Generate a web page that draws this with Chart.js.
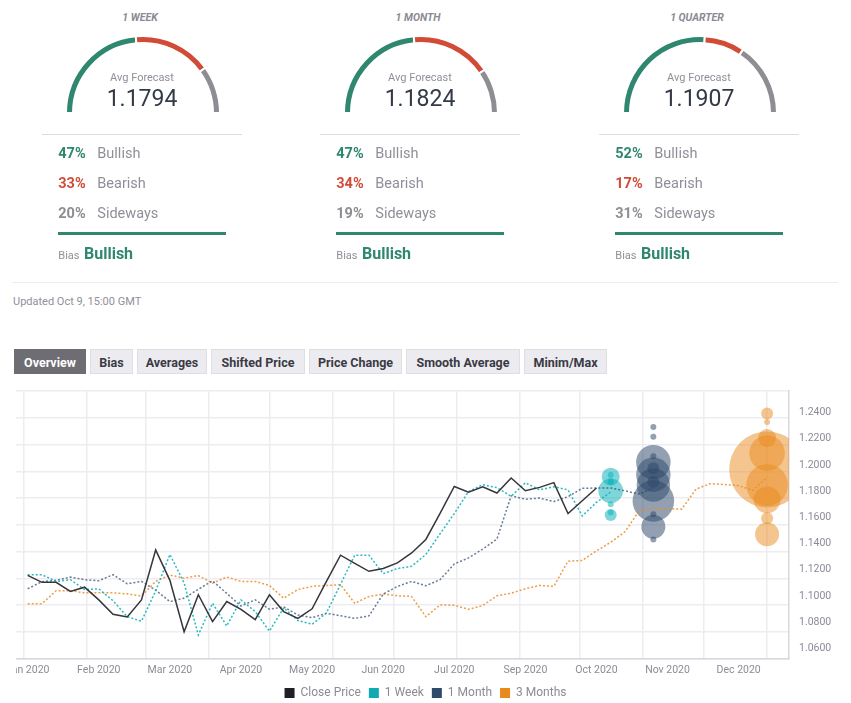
<!DOCTYPE html>
<html>
<head>
<meta charset="utf-8">
<script src="https://cdn.jsdelivr.net/npm/chart.js@4.4.1/dist/chart.umd.min.js"></script>
<style>
html,body{margin:0;padding:0;background:#fff;}
body{width:851px;height:703px;position:relative;overflow:hidden;font-family:Roboto,"Open Sans",Arial,sans-serif;}
.abs{position:absolute;white-space:nowrap;}
.ttl{font-size:10.5px;font-style:italic;font-weight:700;color:#8a8a94;width:200px;text-align:center;line-height:14px;}
.avg{font-size:11px;color:#8f8f99;width:200px;text-align:center;line-height:14px;}
.val{font-size:23px;color:#333a46;width:200px;text-align:center;line-height:28px;}
.hr{height:1px;background:#dcdcdf;}
.pct{font-size:14.5px;font-weight:700;line-height:18px;}
.lab{font-size:14.5px;color:#8f8f99;line-height:18px;}
.bar{height:3px;background:#2f876f;}
.bias{font-size:11px;color:#8f8f99;line-height:14px;}
.biasv{font-size:16px;font-weight:700;color:#2f876f;line-height:20px;}
.upd{font-size:11px;color:#8f8f99;line-height:14px;}
.tabs{display:flex;gap:4px;}
.tab{height:25px;line-height:25px;box-sizing:border-box;border:1px solid #dedee3;background:#ececf0;color:#3a3a44;font-size:12.5px;font-weight:700;text-align:center;}
.tab.on{background:#6d6d73;border-color:#6d6d73;color:#fff;}
</style>
</head>
<body>
<div id="widgets"></div>
<div class="abs hr" style="left:12px;top:282px;width:826px;background:#ececef;"></div>
<div class="abs upd" style="left:13px;top:295px;">Updated Oct 9, 15:00 GMT</div>
<div class="abs tabs" id="tabs" style="left:14px;top:349px;"></div>
<canvas id="main" class="abs" style="left:16px;top:380px;" width="819" height="329"></canvas>
<script>
// ---------- Sentiment poll data ----------
const periods = ['1 WEEK', '1 MONTH', '1 QUARTER'];
const avgForecast = ['1.1794', '1.1824', '1.1907'];
const bullishPct = [47, 47, 52];
const bearishPct = [33, 34, 17];
const sidewaysPct = [20, 19, 31];
const biasText = ['Bullish', 'Bullish', 'Bullish'];
const tabLabels = ['Overview', 'Bias', 'Averages', 'Shifted Price', 'Price Change', 'Smooth Average', 'Minim/Max'];

// ---------- Chart data (weekly, week 0 = 3 Jan 2020) ----------
const startDate = Date.UTC(2020, 0, 3);
const xTickLabels = ['Jan 2020', 'Feb 2020', 'Mar 2020', 'Apr 2020', 'May 2020', 'Jun 2020', 'Jul 2020', 'Sep 2020', 'Oct 2020', 'Nov 2020', 'Dec 2020'];
const yTickValues = [1.06, 1.08, 1.10, 1.12, 1.14, 1.16, 1.18, 1.20, 1.22, 1.24];

const closePrice = [1.1158, 1.1105, 1.1105, 1.1035, 1.1068, 1.0971, 1.0861, 1.0841, 1.0971, 1.1352,
  1.1120, 1.0728, 1.1010, 1.0805, 1.0958, 1.0899, 1.0820, 1.1010, 1.0882, 1.0830,
  1.0903, 1.1110, 1.1312, 1.1250, 1.1189, 1.1210, 1.1253, 1.1329, 1.1432, 1.1630,
  1.1836, 1.1793, 1.1834, 1.1786, 1.1901, 1.1803, 1.1829, 1.1865, 1.1629, 1.1727, 1.1824];

const weekForecast = [1.1163, 1.1163, 1.1112, 1.1125, 1.1050, 1.1055, 1.0965, 1.0843, 1.0808, 1.1040,
  1.1317, 1.1100, 1.0703, 1.0945, 1.0772, 1.0971, 1.0882, 1.0733, 1.0910, 1.0814,
  1.0785, 1.0869, 1.1090, 1.1312, 1.1312, 1.1171, 1.1210, 1.1227, 1.1317, 1.1475,
  1.1629, 1.1797, 1.1849, 1.1827, 1.1761, 1.1864, 1.1810, 1.1834, 1.1810, 1.1611, 1.1715, 1.1794];

const monthForecast = [1.1056, 1.1110, 1.1120, 1.1145, 1.1125, 1.1117, 1.1163, 1.1094, 1.1112, 1.1045,
  1.0958, 1.0984, 1.1052, 1.1116, 1.1020, 1.0924, 1.0971, 1.0900, 1.0917, 1.0856,
  1.0835, 1.0869, 1.0850, 1.0830, 1.0849, 1.1015, 1.1074, 1.1112, 1.1079, 1.1125,
  1.1245, 1.1291, 1.1358, 1.1435, 1.1765, 1.1739, 1.1747, 1.1721, 1.1758, 1.1822,
  1.1824, 1.1824, 1.1803, 1.1778, 1.1824];

const quarterForecast = [1.0941, 1.0941, 1.1041, 1.1041, 1.1025, 1.1025, 1.1025, 1.1017, 1.1000, 1.1112,
  1.1160, 1.1137, 1.1156, 1.1099, 1.1145, 1.1112, 1.1112, 1.1081, 1.0984, 1.1050,
  1.1074, 1.1081, 1.1087, 1.0945, 1.0997, 1.1015, 1.1002, 1.0997, 1.0843, 1.0933,
  1.0930, 1.0899, 1.0928, 1.1002, 1.1022, 1.1056, 1.1081, 1.1074, 1.1266, 1.1272,
  1.1345, 1.1410, 1.1490, 1.1650, 1.1667, 1.1667, 1.1663, 1.1816, 1.1857, 1.1851,
  1.1842, 1.1806, 1.1907];

// individual forecasts: target week, values and number of forecasters
const weekTarget = 41;
const weekBubbleValues = [1.1911, 1.1924, 1.1870, 1.1876, 1.1803, 1.1701, 1.1619, 1.1637];
const weekBubbleCounts = [9, 1, 1, 1, 17, 1, 4, 1];
const monthTarget = 44;
const monthBubbleValues = [1.2289, 1.2216, 1.2021, 1.2067, 1.1926, 1.1975, 1.1872, 1.1847, 1.1726, 1.1624, 1.1529, 1.1432];
const monthBubbleCounts = [1, 1, 33, 1, 33, 4, 4, 31, 48, 1, 16, 1];
const quarterTarget = 52;
const quarterBubbleValues = [1.2392, 1.2328, 1.2205, 1.2090, 1.1966, 1.1847, 1.1734, 1.1593, 1.1471];
const quarterBubbleCounts = [4, 1, 9, 35, 160, 48, 20, 4, 16];

// ---------- styles ----------
const C_GREEN = '#2f876f', C_RED = '#d14b37', C_GRAY = '#8d8d92';
const legendColors = ['#1f1f27', '#12aab2', '#2e4a6c', '#e8891d'];
const GRID = '#ededf1';
const TXT = '#8b8b98';
Chart.defaults.font.family = 'Roboto, "Open Sans", Arial, sans-serif';

// ---------- top widgets ----------
const widgetsEl = document.getElementById('widgets');
const colDx = [0, 278, 557];
periods.forEach((p, i) => {
  const dx = colDx[i];
  const h = [];
  h.push(`<div class="abs ttl" style="left:${40 + dx}px;top:10.5px;">${p}</div>`);
  h.push(`<canvas id="g${i}" class="abs" style="left:${64.5 + dx}px;top:35px;" width="156" height="79"></canvas>`);
  h.push(`<div class="abs avg" style="left:${42 + dx}px;top:70.5px;">Avg Forecast</div>`);
  h.push(`<div class="abs val" style="left:${42 + dx}px;top:85px;">${avgForecast[i]}</div>`);
  h.push(`<div class="abs hr" style="left:${42 + dx}px;top:134px;width:200px;"></div>`);
  const rows = [[bullishPct[i], 'Bullish', C_GREEN], [bearishPct[i], 'Bearish', C_RED], [sidewaysPct[i], 'Sideways', C_GRAY]];
  rows.forEach((r, k) => {
    const y = 145 + k * 30;
    h.push(`<div class="abs pct" style="left:${58.3 + dx}px;top:${y}px;color:${r[2]};">${r[0]}%</div>`);
    h.push(`<div class="abs lab" style="left:${97.3 + dx}px;top:${y}px;">${r[1]}</div>`);
  });
  h.push(`<div class="abs bar" style="left:${58.3 + dx}px;top:232px;width:168px;"></div>`);
  h.push(`<div class="abs bias" style="left:${58.3 + dx}px;top:248.5px;">Bias</div>`);
  h.push(`<div class="abs biasv" style="left:${84 + dx}px;top:243.8px;">${biasText[i]}</div>`);
  widgetsEl.insertAdjacentHTML('beforeend', h.join(''));
});
periods.forEach((p, i) => {
  new Chart(document.getElementById('g' + i), {
    type: 'doughnut',
    data: {
      labels: ['Bullish', 'Bearish', 'Sideways'],
      datasets: [{ data: [bullishPct[i], bearishPct[i], sidewaysPct[i]], backgroundColor: [C_GREEN, C_RED, C_GRAY], borderColor: '#fff', borderWidth: 2 }]
    },
    options: {
      responsive: false, animation: false, events: [],
      rotation: -90, circumference: 180, cutout: '90.9%',
      layout: { padding: 0 },
      plugins: { legend: { display: false }, tooltip: { enabled: false } }
    }
  });
});

const tabWidths = [72, 43, 70, 94, 93, 114, 83];
document.getElementById('tabs').innerHTML = tabLabels.map((t, i) =>
  `<div class="tab${i === 0 ? ' on' : ''}" style="width:${tabWidths[i]}px">${t}</div>`).join('');

// ---------- main chart ----------
const X_MIN = -0.823, X_MAX = 53.54;
const Y_MIN = 1.0524, Y_MAX = 1.2564;
const DAY = 864e5;
const monthStarts = [];
for (let m = 0; m <= 12; m++) monthStarts.push((Date.UTC(2020, m, 1) - startDate) / (7 * DAY));

const toPts = arr => arr.map((v, i) => ({ x: i, y: v }));
const toBubbles = (wk, vals, counts) => vals.map((v, i) => ({ x: wk, y: v, r: 3 * Math.sqrt(counts[i]) }));
const noPad = s => { s.paddingLeft = 0; s.paddingRight = 0; s.paddingTop = 0; s.paddingBottom = 0; };

const lineBase = { pointRadius: 0, borderWidth: 1.5, fill: false, order: 0, tension: 0 };
new Chart(document.getElementById('main'), {
  type: 'line',
  data: {
    datasets: [
      Object.assign({ label: 'Close Price', data: toPts(closePrice), borderColor: '#35353c' }, lineBase),
      Object.assign({ label: '1 Week', data: toPts(weekForecast), borderColor: 'rgba(18,178,186,0.9)', borderDash: [2, 2] }, lineBase),
      Object.assign({ label: '1 Month', data: toPts(monthForecast), borderColor: 'rgba(46,74,108,0.72)', borderDash: [2, 2] }, lineBase),
      Object.assign({ label: '3 Months', data: toPts(quarterForecast), borderColor: 'rgba(236,140,40,0.85)', borderDash: [2, 2] }, lineBase),
      { type: 'bubble', label: '1 Week forecasts', data: toBubbles(weekTarget, weekBubbleValues, weekBubbleCounts), backgroundColor: 'rgba(20,180,188,0.55)', borderWidth: 0, clip: 0, order: 1 },
      { type: 'bubble', label: '1 Month forecasts', data: toBubbles(monthTarget, monthBubbleValues, monthBubbleCounts), backgroundColor: 'rgba(46,72,106,0.52)', borderWidth: 0, clip: 0, order: 1 },
      { type: 'bubble', label: '3 Months forecasts', data: toBubbles(quarterTarget, quarterBubbleValues, quarterBubbleCounts), backgroundColor: 'rgba(234,140,32,0.5)', borderWidth: 0, clip: 0, order: 1 }
    ]
  },
  options: {
    responsive: false, animation: false, events: [],
    layout: { padding: { top: 11, left: 0, right: 0, bottom: 0 }, autoPadding: false },
    scales: {
      x: {
        type: 'linear', position: 'bottom', min: X_MIN, max: X_MAX,
        grid: { display: false, drawTicks: false },
        border: { display: true, color: '#d8d8de', width: 1.5 },
        afterBuildTicks: s => { s.ticks = xTickLabels.map((_, i) => ({ value: i * 5 })); },
        ticks: { autoSkip: false, maxRotation: 0, padding: 6, color: TXT, font: { size: 10.5 }, callback: (v, i) => xTickLabels[i] },
        afterFit: s => { noPad(s); s.height = 20.5; }
      },
      xGrid: {
        type: 'linear', position: 'top', min: X_MIN, max: X_MAX,
        grid: { color: GRID, lineWidth: 1.5, drawTicks: false },
        border: { display: false },
        ticks: { display: false },
        afterBuildTicks: s => { s.ticks = monthStarts.map(v => ({ value: v })); },
        afterFit: s => { noPad(s); s.height = 0; }
      },
      y: {
        type: 'linear', position: 'right', min: Y_MIN, max: Y_MAX,
        grid: { display: false, drawTicks: false },
        border: { display: true, color: '#d8d8de', width: 1.5 },
        afterBuildTicks: s => { s.ticks = yTickValues.map(v => ({ value: v })); },
        ticks: { padding: 10, color: TXT, font: { size: 10.5 }, callback: v => Number(v).toFixed(4) },
        afterFit: s => { noPad(s); s.width = 46; }
      },
      yGrid: {
        type: 'linear', position: 'left', min: 0, max: 10,
        grid: { color: GRID, lineWidth: 1.5, drawTicks: false },
        border: { display: false },
        ticks: { display: false, stepSize: 1 },
        afterFit: s => { noPad(s); s.width = 0; }
      }
    },
    plugins: {
      tooltip: { enabled: false },
      legend: {
        position: 'bottom',
        labels: {
          boxWidth: 10, boxHeight: 10, padding: 8, color: TXT, font: { size: 12 },
          generateLabels: chart => chart.data.datasets.slice(0, 4).map((ds, i) => ({
            text: ds.label, fillStyle: legendColors[i], strokeStyle: legendColors[i],
            lineWidth: 0, hidden: false, datasetIndex: i, fontColor: TXT
          }))
        }
      }
    }
  }
});
</script>
</body>
</html>
